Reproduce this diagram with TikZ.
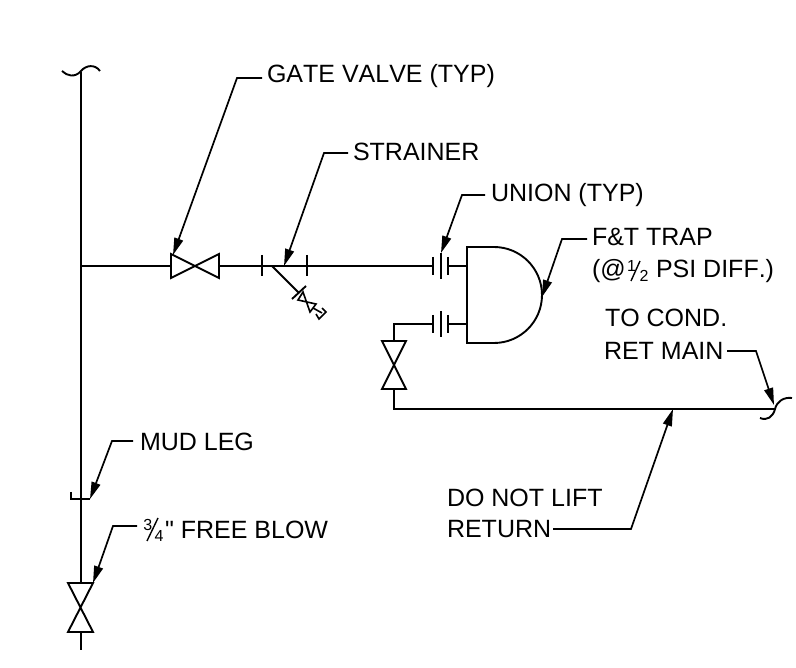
\documentclass[tikz,border=0pt]{standalone}
\usepackage{fontspec}
\newfontfamily\cadfont[Kerning=Off]{Liberation Sans}
\usetikzlibrary{arrows.meta}
\tikzset{
  pipe/.style={line width=2.1pt,line join=miter,black},
  sym/.style={line width=1.9pt,line join=miter,black},
  leader/.style={line width=1.7pt,black,line join=miter,-{Stealth[length=17pt,width=9pt,inset=0pt]}},
  lab/.style={anchor=base west,inner sep=0pt,outer sep=0pt,font=\cadfont\fontsize{25}{25}\selectfont,text=black},
  fracnum/.style={anchor=base west,inner sep=0pt,outer sep=0pt,font=\cadfont\fontsize{16}{16}\selectfont,text=black}
}
\begin{document}
\begin{tikzpicture}[x=1pt,y=-1pt]
\useasboundingbox (0,0) rectangle (796,668);
% named points
\coordinate (top) at (81,72);
\coordinate (tee) at (81,266);
\coordinate (fbtop) at (81,583);
\coordinate (fbmid) at (81,607);
\coordinate (fbbot) at (81,632);
\coordinate (bot) at (81,650);
\coordinate (gvl) at (171,266);
\coordinate (gvm) at (195,266);
\coordinate (gvr) at (219,266);
\coordinate (upl) at (433,266);
\coordinate (upr) at (448,266);
\coordinate (trapu) at (467,266);
\coordinate (lol) at (433,324);
\coordinate (lor) at (448,324);
\coordinate (trapl) at (467,324);
\coordinate (cor) at (394,324);
\coordinate (rvt) at (394,341);
\coordinate (rvm) at (394,365);
\coordinate (rvb) at (394,389);
\coordinate (rc) at (394,409);
\coordinate (rend) at (775,409);
\coordinate (branch) at (272,266);
\coordinate (plate) at (299,293);
% pipes
\draw[pipe] (top) -- (fbtop);
\draw[pipe] (fbbot) -- (bot);
\draw[pipe] (tee) -- (gvl);
\draw[pipe] (gvr) -- (upl);
\draw[pipe] (upr) -- (trapu);
\draw[pipe] (lor) -- (trapl);
\draw[pipe] (lol) -- (cor) -- (rvt);
\draw[pipe] (rvb) -- (rc) -- (rend);
\draw[pipe] (branch) -- (plate);
% pipe break marks
\draw[sym] (62,71) .. controls (67,76) and (75,78) .. (81,71) .. controls (86,65) and (95,64) .. (100,71);
\draw[sym] (760,418) .. controls (767,421) and (773,417) .. (775,409) .. controls (777,401) and (784,397) .. (792,398);
% gate valves
\draw[sym] (gvl) ++(0,-12) -- ++(48,24) -- ++(0,-24) -- ++(-48,24) -- cycle;
\draw[sym] (68,583) -- (93,583) -- (68,632) -- (93,632) -- cycle;
\draw[sym] (382,341) -- (406,341) -- (382,389) -- (406,389) -- cycle;
% strainer
\draw[sym] (262,255) -- (262,276);
\draw[sym] (307,255) -- (307,276);
\draw[sym] (292,299) -- (306,286);
\draw[sym,line width=1.6pt] (303,292) -- (298,300) -- (316,304) -- (310,312) -- cycle;
\draw[sym,line width=1.6pt] (313,308) -- (322,313);
\draw[sym,line width=1.6pt] (322,308) -- (326,312) -- (319,319) -- (316,314);
% unions
\foreach \y in {266,324}{
  \draw[sym] (433,\y-9) -- (433,\y+9);
  \draw[sym] (441,\y-13) -- (441,\y+13);
  \draw[sym] (448,\y-9) -- (448,\y+9);
}
% trap
\draw[sym] (467,247) -- (494,247) .. controls (520.5,247) and (542,268.5) .. (542,295) .. controls (542,321.5) and (520.5,343) .. (494,343) -- (467,343) -- cycle;
% mud leg
\draw[sym] (71,492) -- (71,499) -- (90,499);
% labels
\node[lab] (lgate) at (267,83) {GATE VALVE (TYP)};
\node[lab] (lstr) at (353,161) {STRAINER};
\node[lab] (luni) at (491,202) {UNION (TYP)};
\node[lab] (ltrap) at (592,246) {F\&T TRAP};
\node[lab] (ltrapa) at (592,278) {(@};
\node[fracnum] (hn) at (627,272) {1};
\node[fracnum] (hd) at (639.5,282) {2};
\draw[line width=1.4pt] (631,281) -- (640,261);
\node[lab] (ltrapb) at (656,278) {PSI DIFF.)};
\node[lab] (lcond) at (605,327) {TO COND.};
\node[lab] (lret) at (604,360) {RET MAIN};
\node[lab] (llift) at (447,507) {DO NOT LIFT};
\node[lab] (lreturn) at (447,537) {RETURN};
\node[lab] (lmud) at (140,450) {MUD LEG};
\node[fracnum] (qn) at (143.3,530) {3};
\node[fracnum] (qd) at (154.5,541) {4};
\draw[line width=1.4pt] (147,541) -- (158,518);
\node[lab] (lblow) at (165,538) {" FREE BLOW};
% leaders
\coordinate (t1) at (173,255);
\coordinate (t2) at (284,266);
\coordinate (t3) at (441,253);
\coordinate (t4) at (542,297);
\coordinate (t5) at (774,405);
\coordinate (t6) at (673,409);
\coordinate (t7) at (90,499);
\coordinate (t8) at (93,583);
\draw[leader] (262,78) -- (237,78) -- (t1);
\draw[leader] (348,153) -- (324,153) -- (t2);
\draw[leader] (485,195) -- (462,195) -- (t3);
\draw[leader] (587,239) -- (562,239) -- (t4);
\draw[leader] (727,351) -- (756,351) -- (t5);
\draw[leader] (553,529) -- (631,529) -- (t6);
\draw[leader] (133,441) -- (112,441) -- (t7);
\draw[leader] (137,526) -- (113,526) -- (t8);
\end{tikzpicture}
\end{document}
